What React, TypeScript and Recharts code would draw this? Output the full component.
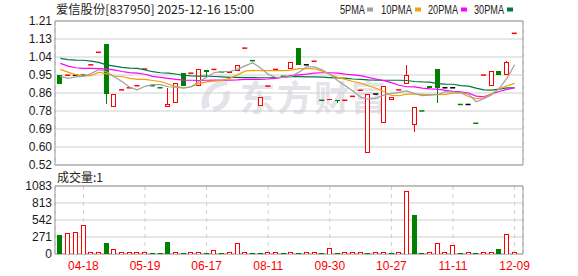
import {
  ComposedChart,
  Bar,
  Line,
  XAxis,
  YAxis,
  CartesianGrid,
  ReferenceArea,
} from "recharts";

// daily candles (60 trading days)
const OPEN = [
  0.95, 0.95, 0.95, 0.95, 1.0, 1.06, 1.1, 0.8, 0.88, 0.89,
  0.9, 0.98, 0.9, 0.89, 0.8, 0.82, 0.96, 0.96, 0.9, 0.97,
  0.978, 0.966, 0.962, 0.972, 1.08, 1.02, 0.803, 0.898, 0.978, 0.945,
  0.983, 1.081, 1.0, 1.017, 0.83, 0.83, 0.83, 0.83, 0.849, 0.878,
  0.581, 0.86, 0.725, 0.834, 0.88, 0.911, 0.715, 0.779, 0.9, 0.98,
  0.89, 0.89, 0.81, 0.81, 0.72, 0.951, 0.9, 0.97, 0.955, 1.151,
];
const CLOSE = [
  0.91, 0.95, 0.95, 0.95, 1.0, 1.06, 0.86, 0.86, 0.88, 0.89,
  0.9, 0.98, 0.9, 0.89, 0.81, 0.91, 0.9, 0.96, 0.98, 0.967,
  0.978, 0.966, 0.968, 0.998, 1.08, 1.02, 0.843, 0.898, 0.978, 0.945,
  1.009, 1.0, 1.0, 1.017, 0.83, 0.835, 0.826, 0.83, 0.849, 0.878,
  0.86, 0.86, 0.897, 0.843, 0.88, 0.951, 0.796, 0.779, 0.89, 0.89,
  0.89, 0.89, 0.81, 0.81, 0.72, 0.951, 0.97, 0.953, 1.009, 1.151,
];
const HIGH = [
  0.95, 0.95, 0.95, 0.95, 1.0, 1.06, 1.1, 0.86, 0.88, 0.89,
  0.9, 0.98, 0.9, 0.89, 0.89, 0.91, 0.96, 0.96, 0.98, 0.97,
  0.978, 0.966, 0.968, 0.998, 1.08, 1.02, 0.843, 0.898, 0.978, 0.945,
  1.009, 1.081, 1.0, 1.017, 0.83, 0.835, 0.83, 0.83, 0.849, 0.878,
  0.86, 0.86, 0.897, 0.843, 0.88, 1.0, 0.796, 0.779, 0.9, 0.98,
  0.89, 0.89, 0.81, 0.81, 0.72, 0.951, 0.97, 0.97, 1.018, 1.151,
];
const LOW = [
  0.91, 0.95, 0.95, 0.95, 1.0, 1.06, 0.81, 0.8, 0.88, 0.89,
  0.9, 0.98, 0.9, 0.89, 0.8, 0.82, 0.9, 0.96, 0.9, 0.943,
  0.978, 0.966, 0.962, 0.972, 1.08, 1.02, 0.803, 0.898, 0.978, 0.945,
  0.983, 1.0, 1.0, 1.017, 0.83, 0.83, 0.817, 0.83, 0.849, 0.878,
  0.581, 0.86, 0.725, 0.834, 0.88, 0.911, 0.68, 0.779, 0.89, 0.816,
  0.89, 0.89, 0.81, 0.81, 0.72, 0.951, 0.9, 0.953, 0.955, 1.151,
];
const VOLUME = [
  303, 330, 350, 446, 3, 3, 180, 64, 3, 3,
  3, 3, 3, 3, 191, 3, 3, 3, 3, 3,
  48, 3, 3, 170, 3, 3, 3, 3, 3, 3,
  20, 3, 3, 3, 3, 80, 3, 3, 3, 3,
  3, 3, 3, 3, 3, 1000, 621, 3, 3, 170,
  3, 143, 3, 3, 3, 3, 3, 80, 313, 1,
];

// moving averages as drawn
const MA5 = [
  0.945, 0.935, 0.942, 0.945, 0.958, 0.978, 0.967, 0.943, 0.92, 0.893,
  0.88, 0.897, 0.905, 0.905, 0.895, 0.893, 0.888, 0.895, 0.92, 0.94,
  0.963, 0.967, 0.968, 0.978, 0.995, 1.01, 0.985, 0.955, 0.94, 0.94,
  0.945, 0.965, 0.99, 0.99, 0.976, 0.955, 0.925, 0.9, 0.875, 0.845,
  0.835, 0.84, 0.855, 0.862, 0.868, 0.875, 0.862, 0.852, 0.855, 0.858,
  0.87, 0.87, 0.866, 0.86, 0.823, 0.838, 0.855, 0.887, 0.935, 1.0,
];
const MA10 = [
  0.978, 0.965, 0.952, 0.947, 0.948, 0.965, 0.957, 0.946, 0.944, 0.935,
  0.93, 0.93, 0.925, 0.92, 0.908, 0.896, 0.89, 0.895, 0.91, 0.918,
  0.922, 0.925, 0.935, 0.952, 0.97, 0.973, 0.972, 0.972, 0.972, 0.972,
  0.975, 0.982, 0.982, 0.981, 0.97, 0.955, 0.94, 0.93, 0.92, 0.912,
  0.9, 0.888, 0.872, 0.853, 0.852, 0.86, 0.86, 0.858, 0.857, 0.857,
  0.858, 0.864, 0.866, 0.848, 0.838, 0.842, 0.86, 0.885, 0.9, 0.911,
];
const MA20 = [
  1.007, 0.994, 0.986, 0.983, 0.983, 0.982, 0.979, 0.976, 0.968, 0.963,
  0.96, 0.955, 0.945, 0.94, 0.935, 0.93, 0.927, 0.926, 0.925, 0.926,
  0.927, 0.927, 0.927, 0.928, 0.93, 0.93, 0.93, 0.932, 0.935, 0.942,
  0.948, 0.952, 0.955, 0.96, 0.962, 0.962, 0.96, 0.955, 0.952, 0.948,
  0.94, 0.932, 0.924, 0.915, 0.902, 0.895, 0.894, 0.888, 0.885, 0.884,
  0.878, 0.873, 0.871, 0.865, 0.85, 0.847, 0.86, 0.872, 0.882, 0.89,
];
const MA30 = [
  1.031, 1.025, 1.023, 1.022, 1.018, 1.012, 1.0, 0.994, 0.988, 0.984,
  0.983, 0.976, 0.967, 0.962, 0.96, 0.956, 0.95, 0.947, 0.946, 0.946,
  0.944, 0.942, 0.94, 0.94, 0.939, 0.939, 0.938, 0.938, 0.939, 0.94,
  0.944, 0.943, 0.942, 0.942, 0.941, 0.939, 0.937, 0.936, 0.932, 0.93,
  0.928, 0.927, 0.926, 0.926, 0.926, 0.925, 0.92, 0.918, 0.917, 0.91,
  0.908, 0.907, 0.9, 0.898, 0.888, 0.88, 0.879, 0.884, 0.89, 0.89,
];

const TICK_IDX = [3, 11, 19, 27, 35, 43, 51, 59];
const TICK_LABELS = ["04-18", "05-19", "06-17", "08-11", "09-30", "10-27", "11-11", "12-09"];
const PRICE_LABELS = ["0.52", "0.60", "0.69", "0.78", "0.86", "0.95", "1.04", "1.13", "1.21"];
const VOL_TICKS = [0, 271, 542, 813, 1083];

const RED = "#ff0000";
const GREEN = "#008000";
const X_DOMAIN = [-0.69, 60.09];
const P_MIN = 0.52;
const P_MAX = 1.21;
const PRICE_TICKS = PRICE_LABELS.map((_, i) => P_MIN + (i * (P_MAX - P_MIN)) / 8);

const candleColor = (i: number) => {
  if (CLOSE[i] > OPEN[i]) return RED;
  if (CLOSE[i] < OPEN[i]) return GREEN;
  if (i === 0) return "#000";
  if (CLOSE[i] > CLOSE[i - 1]) return RED;
  if (CLOSE[i] < CLOSE[i - 1]) return GREEN;
  return "#000";
};

const rows = OPEN.map((o, i) => ({
  i,
  range: [LOW[i], HIGH[i]],
  open: o,
  close: CLOSE[i],
  high: HIGH[i],
  low: LOW[i],
  color: candleColor(i),
  up: CLOSE[i] > o,
  vol: VOLUME[i],
  volUp: i === 0 ? CLOSE[i] >= o : CLOSE[i] >= CLOSE[i - 1],
  ma5: MA5[i],
  ma10: MA10[i],
  ma20: MA20[i],
  ma30: MA30[i],
}));

const axisFont = { fill: "#1a1a1a", fontSize: 12, fontFamily: "Liberation Sans, Arial, sans-serif" };

function Candle(props: any) {
  const { x, y, width, height, payload } = props;
  if (x == null || y == null || !payload) return null;
  const c = x + width / 2;
  const top = Math.min(y, y + height);
  const h = Math.abs(height);
  const { open, close, high, low, color, up } = payload;
  if (high === low || h < 0.5) {
    return <line x1={c - 2.5} x2={c + 2.5} y1={top} y2={top} stroke={color} strokeWidth={1.5} />;
  }
  const k = h / (high - low);
  const yO = top + (high - open) * k;
  const yC = top + (high - close) * k;
  const bTop = Math.min(yO, yC);
  const bH = Math.abs(yO - yC);
  return (
    <g shapeRendering="crispEdges">
      <line x1={c} x2={c} y1={top} y2={top + h} stroke={color} strokeWidth={1} />
      {bH < 1.2 ? (
        <line x1={c - 2.5} x2={c + 2.5} y1={bTop} y2={bTop} stroke={color} strokeWidth={1.5} />
      ) : up ? (
        <rect x={c - 2} y={bTop} width={4} height={bH} fill="#fff" stroke={color} strokeWidth={1} />
      ) : (
        <rect x={c - 2.5} y={bTop} width={5} height={bH} fill={color} />
      )}
    </g>
  );
}

function VolBar(props: any) {
  const { x, y, width, height, payload } = props;
  if (x == null || y == null || !payload) return null;
  const c = x + width / 2;
  const bottom = y + height;
  const h = Math.max(height, 1.5);
  if (payload.volUp) {
    return (
      <rect x={c - 2} y={bottom - h} width={4} height={h} fill="#fff" stroke={RED} strokeWidth={1} shapeRendering="crispEdges" />
    );
  }
  return <rect x={c - 2.5} y={bottom - h} width={5} height={h} fill={GREEN} shapeRendering="crispEdges" />;
}

const fmtX = (v: number) => TICK_LABELS[TICK_IDX.indexOf(v)] ?? "";

export default function App() {
  return (
    <div style={{ position: "absolute", left: 0, top: 0, width: 578, height: 276, background: "#fff", overflow: "hidden" }}>
      {/* watermark */}
      <svg width={578} height={276} style={{ position: "absolute", left: 0, top: 0 }}>
        <path d="M226 79 C208 82 198 96 203 110 L210 106 C206 96 212 87 228 85 Z" fill="#e3e3e9" />
        <path d="M214 112 C226 110 232 100 229 90 L223 93 C225 101 220 106 212 107 Z" fill="#e3e3e9" />
        <text x={240} y={111} fontSize={35} fontWeight={700} fill="#e3e3e9" fontFamily="Noto Sans CJK SC" letterSpacing={2}>
          东方财富
        </text>
      </svg>

      <div style={{ position: "absolute", left: 0, top: 0 }}>
        <ComposedChart width={578} height={176} data={rows} margin={{ top: 21, right: 55, bottom: 0, left: 0 }}>
          <CartesianGrid vertical={false} stroke="#cfcfcf" />
          <CartesianGrid horizontal={false} stroke="#cfcfcf" strokeDasharray="4 4" />
          <XAxis
            dataKey="i"
            type="number"
            domain={X_DOMAIN}
            allowDataOverflow
            ticks={TICK_IDX}
            interval={0}
            tick={false}
            tickLine={false}
            axisLine={false}
            height={11}
          />
          <YAxis
            type="number"
            domain={[P_MIN, P_MAX]}
            allowDataOverflow
            ticks={PRICE_TICKS}
            interval={0}
            tickFormatter={(_v: number, idx: number) => PRICE_LABELS[idx]}
            tick={axisFont}
            tickLine={false}
            axisLine={false}
            tickSize={0}
            tickMargin={3}
            width={55}
          />
          <ReferenceArea x1={X_DOMAIN[0]} x2={X_DOMAIN[1]} y1={P_MIN} y2={P_MAX} fill="none" stroke="#999" ifOverflow="visible" />
          <Bar dataKey="range" barSize={5} shape={Candle} isAnimationActive={false} />
          <Line dataKey="ma30" stroke="#00783c" strokeWidth={1.2} dot={false} isAnimationActive={false} />
          <Line dataKey="ma20" stroke="#ff00ff" strokeWidth={1.2} dot={false} isAnimationActive={false} />
          <Line dataKey="ma10" stroke="#f5a000" strokeWidth={1.2} dot={false} isAnimationActive={false} />
          <Line dataKey="ma5" stroke="#a0a0a0" strokeWidth={1.2} dot={false} isAnimationActive={false} />
        </ComposedChart>
      </div>

      <div style={{ position: "absolute", left: 0, top: 176 }}>
        <ComposedChart width={578} height={100} data={rows} margin={{ top: 10, right: 55, bottom: 0, left: 0 }}>
          <CartesianGrid vertical={false} stroke="#cfcfcf" />
          <CartesianGrid horizontal={false} stroke="#cfcfcf" strokeDasharray="4 4" />
          <XAxis
            dataKey="i"
            type="number"
            domain={X_DOMAIN}
            allowDataOverflow
            ticks={TICK_IDX}
            interval={0}
            tickFormatter={fmtX}
            tick={{ ...axisFont, fill: RED }}
            tickLine={false}
            axisLine={false}
            tickSize={0}
            tickMargin={7}
            height={22}
          />
          <YAxis
            type="number"
            domain={[0, VOL_TICKS[VOL_TICKS.length - 1]]}
            allowDataOverflow
            ticks={VOL_TICKS}
            interval={0}
            tick={axisFont}
            tickLine={false}
            axisLine={false}
            tickSize={0}
            tickMargin={3}
            width={55}
          />
          <ReferenceArea
            x1={X_DOMAIN[0]}
            x2={X_DOMAIN[1]}
            y1={0}
            y2={VOL_TICKS[VOL_TICKS.length - 1]}
            fill="none"
            stroke="#999"
            ifOverflow="visible"
          />
          <Bar dataKey="vol" barSize={5} shape={VolBar} isAnimationActive={false} />
        </ComposedChart>
      </div>

      {/* title, legend and volume caption */}
      <svg width={578} height={276} style={{ position: "absolute", left: 0, top: 0, pointerEvents: "none" }}>
        <text x={56} y={14} fontSize={12} fill="#222" fontFamily="Noto Sans CJK SC" textLength={198} lengthAdjust="spacingAndGlyphs">
          爱信股份[837950] 2025-12-16 15:00
        </text>
        <g fontSize={12} fill="#222" fontFamily="Liberation Sans, Arial, sans-serif">
          <text x={340} y={14} textLength={25} lengthAdjust="spacingAndGlyphs">5PMA</text>
          <rect x={367} y={7.5} width={6} height={4} fill="#a0a0a0" />
          <text x={381} y={14} textLength={31} lengthAdjust="spacingAndGlyphs">10PMA</text>
          <rect x={415} y={7.5} width={6} height={4} fill="#f5a000" />
          <text x={428} y={14} textLength={30} lengthAdjust="spacingAndGlyphs">20PMA</text>
          <rect x={461} y={7.5} width={6} height={4} fill="#ff00ff" />
          <text x={474} y={14} textLength={30} lengthAdjust="spacingAndGlyphs">30PMA</text>
          <rect x={507} y={7.5} width={6} height={4} fill="#00783c" />
        </g>
        <text x={57} y={181.5} fontSize={12} fill="#222" fontFamily="Noto Sans CJK SC">
          成交量:1
        </text>
      </svg>
    </div>
  );
}
